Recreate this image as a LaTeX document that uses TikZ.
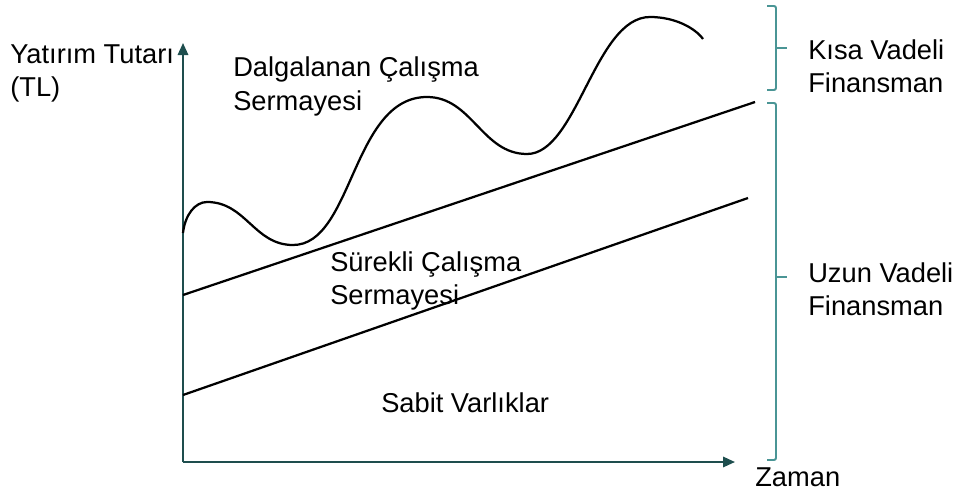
\documentclass[tikz,border=0pt]{standalone}
\usepackage{fontspec}
\setmainfont{Liberation Sans}
\usetikzlibrary{arrows.meta}
\definecolor{axisteal}{HTML}{1E4E4E}
\definecolor{braceteal}{HTML}{4A9595}
\begin{document}
\begin{tikzpicture}[
  lbl/.style={anchor=west,inner sep=0pt,align=left,font=\fontsize{19.4}{23.8}\selectfont},
  axisline/.style={axisteal,line width=1.4pt,-{Triangle[length=0.3cm,width=0.26cm]}},
  trendline/.style={black,line width=1.6pt},
  bracket/.style={braceteal,line width=1.4pt,rounded corners=1.5pt}]
\useasboundingbox (0.000,0.000) rectangle (23.900,-12.325);
\coordinate (origin) at (4.575,-11.550);
\coordinate (ytip) at (4.575,-1.075);
\coordinate (xtip) at (18.375,-11.550);
\draw[axisline] (origin) -- (ytip);
\draw[axisline] (origin) -- (xtip);
\coordinate (fixstart) at (4.575,-9.875);
\coordinate (fixend) at (18.700,-4.950);
\coordinate (permstart) at (4.575,-7.375);
\coordinate (permend) at (18.875,-2.550);
\draw[trendline] (fixstart) -- (fixend);
\draw[trendline] (permstart) -- (permend);
\draw[trendline] (4.575,-5.825) .. controls (4.625,-5.375) and (4.875,-5.050) .. (5.175,-5.050)
  .. controls (6.150,-5.050) and (6.350,-6.125) .. (7.325,-6.125)
  .. controls (8.825,-6.125) and (8.800,-2.425) .. (10.675,-2.425)
  .. controls (11.800,-2.425) and (12.050,-3.850) .. (13.175,-3.850)
  .. controls (14.425,-3.850) and (14.875,-0.425) .. (16.250,-0.425)
  .. controls (16.875,-0.425) and (17.375,-0.700) .. (17.575,-0.975);
\draw[bracket] (19.175,-0.150) -- (19.400,-0.150) -- (19.400,-2.250) -- (19.175,-2.250);
\draw[bracket] (19.400,-1.200) -- (19.675,-1.200);
\draw[bracket] (19.175,-2.575) -- (19.400,-2.575) -- (19.400,-11.500) -- (19.175,-11.500);
\draw[bracket] (19.400,-6.925) -- (19.675,-6.925);
\node[lbl] (ylabel) at (0.250,-1.838) {Yatırım Tutarı\\(TL)};
\node[lbl] (dalga) at (5.825,-2.163) {Dalgalanan Çalışma\\Sermayesi};
\node[lbl] (surekli) at (8.250,-7.025) {Sürekli Çalışma\\Sermayesi};
\node[lbl] (sabit) at (9.525,-10.075) {Sabit Varlıklar};
\node[lbl] (kisa) at (20.200,-1.650) {Kısa Vadeli\\Finansman};
\node[lbl] (uzun) at (20.200,-7.225) {Uzun Vadeli\\Finansman};
\node[lbl] (zaman) at (18.875,-11.925) {Zaman};
\end{tikzpicture}
\end{document}
